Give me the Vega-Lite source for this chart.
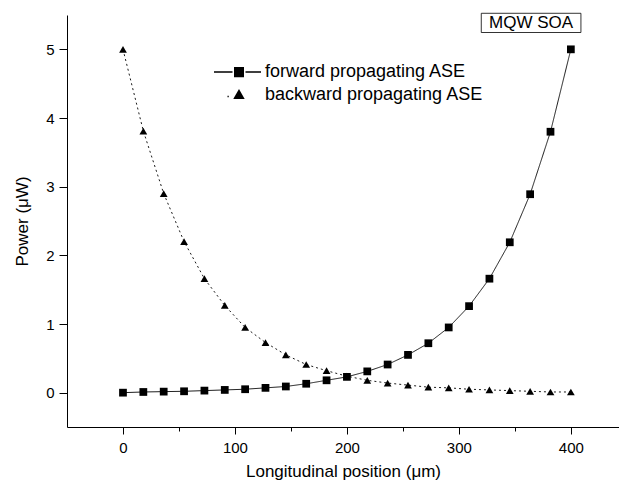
{
  "$schema": "https://vega.github.io/schema/vega-lite/v6.json",
  "width": 552,
  "height": 412,
  "autosize": {"type": "none"},
  "padding": {"left": 67, "top": 15, "right": 0, "bottom": 67},
  "background": "white",
  "config": {
    "view": {"stroke": null},
    "font": "Liberation Sans",
    "axis": {
      "domainColor": "black",
      "domainWidth": 1,
      "tickColor": "black",
      "tickWidth": 1,
      "labelColor": "black",
      "labelFont": "Liberation Sans",
      "labelFontSize": 15,
      "titleColor": "black",
      "titleFont": "Liberation Sans",
      "titleFontSize": 17,
      "titleFontWeight": "normal",
      "grid": false
    }
  },
  "datasets": {
    "ase": [
      {"x": 0, "power": 0.0, "series": "forward propagating ASE"},
      {"x": 18.18, "power": 0.01, "series": "forward propagating ASE"},
      {"x": 36.36, "power": 0.015, "series": "forward propagating ASE"},
      {"x": 54.55, "power": 0.02, "series": "forward propagating ASE"},
      {"x": 72.73, "power": 0.03, "series": "forward propagating ASE"},
      {"x": 90.91, "power": 0.04, "series": "forward propagating ASE"},
      {"x": 109.09, "power": 0.05, "series": "forward propagating ASE"},
      {"x": 127.27, "power": 0.07, "series": "forward propagating ASE"},
      {"x": 145.45, "power": 0.09, "series": "forward propagating ASE"},
      {"x": 163.64, "power": 0.13, "series": "forward propagating ASE"},
      {"x": 181.82, "power": 0.18, "series": "forward propagating ASE"},
      {"x": 200, "power": 0.23, "series": "forward propagating ASE"},
      {"x": 218.18, "power": 0.31, "series": "forward propagating ASE"},
      {"x": 236.36, "power": 0.41, "series": "forward propagating ASE"},
      {"x": 254.55, "power": 0.55, "series": "forward propagating ASE"},
      {"x": 272.73, "power": 0.72, "series": "forward propagating ASE"},
      {"x": 290.91, "power": 0.95, "series": "forward propagating ASE"},
      {"x": 309.09, "power": 1.26, "series": "forward propagating ASE"},
      {"x": 327.27, "power": 1.66, "series": "forward propagating ASE"},
      {"x": 345.45, "power": 2.19, "series": "forward propagating ASE"},
      {"x": 363.64, "power": 2.89, "series": "forward propagating ASE"},
      {"x": 381.82, "power": 3.8, "series": "forward propagating ASE"},
      {"x": 400, "power": 5.0, "series": "forward propagating ASE"},
      {"x": 0, "power": 5.0, "series": "backward propagating ASE"},
      {"x": 18.18, "power": 3.81, "series": "backward propagating ASE"},
      {"x": 36.36, "power": 2.9, "series": "backward propagating ASE"},
      {"x": 54.55, "power": 2.2, "series": "backward propagating ASE"},
      {"x": 72.73, "power": 1.66, "series": "backward propagating ASE"},
      {"x": 90.91, "power": 1.27, "series": "backward propagating ASE"},
      {"x": 109.09, "power": 0.95, "series": "backward propagating ASE"},
      {"x": 127.27, "power": 0.73, "series": "backward propagating ASE"},
      {"x": 145.45, "power": 0.55, "series": "backward propagating ASE"},
      {"x": 163.64, "power": 0.41, "series": "backward propagating ASE"},
      {"x": 181.82, "power": 0.32, "series": "backward propagating ASE"},
      {"x": 200, "power": 0.24, "series": "backward propagating ASE"},
      {"x": 218.18, "power": 0.18, "series": "backward propagating ASE"},
      {"x": 236.36, "power": 0.14, "series": "backward propagating ASE"},
      {"x": 254.55, "power": 0.11, "series": "backward propagating ASE"},
      {"x": 272.73, "power": 0.08, "series": "backward propagating ASE"},
      {"x": 290.91, "power": 0.07, "series": "backward propagating ASE"},
      {"x": 309.09, "power": 0.05, "series": "backward propagating ASE"},
      {"x": 327.27, "power": 0.04, "series": "backward propagating ASE"},
      {"x": 345.45, "power": 0.03, "series": "backward propagating ASE"},
      {"x": 363.64, "power": 0.02, "series": "backward propagating ASE"},
      {"x": 381.82, "power": 0.01, "series": "backward propagating ASE"},
      {"x": 400, "power": 0.01, "series": "backward propagating ASE"}
    ],
    "label": [
      {"x": 320, "x2": 409, "y": 5.245, "y2": 5.525, "xm": 364.5, "ym": 5.385, "text": "MQW SOA"}
    ]
  },
  "layer": [
    {
      "data": {"name": "ase"},
      "mark": {"type": "line", "color": "black", "strokeWidth": 0.9, "clip": false},
      "encoding": {
        "x": {
          "field": "x", "type": "quantitative",
          "scale": {"domain": [-50, 443], "nice": false, "zero": false},
          "axis": {
            "title": "Longitudinal position (μm)",
            "values": [0, 50, 100, 150, 200, 250, 300, 350, 400],
            "labelExpr": "datum.value % 100 === 0 ? format(datum.value, 'd') : ''",
            "tickSize": {"condition": {"test": "datum.value % 100 === 0", "value": 7}, "value": 4},
            "labelPadding": 6,
            "titlePadding": 8
          }
        },
        "y": {
          "field": "power", "type": "quantitative",
          "scale": {"domain": [-0.5, 5.5], "nice": false, "zero": false},
          "axis": {
            "title": "Power (μW)",
            "values": [0, 0.5, 1, 1.5, 2, 2.5, 3, 3.5, 4, 4.5, 5, 5.5],
            "labelExpr": "datum.value % 1 === 0 ? format(datum.value, 'd') : ''",
            "tickSize": {"condition": {"test": "datum.value % 1 === 0", "value": 8}, "value": 4},
            "labelPadding": 5,
            "titlePadding": 14
          }
        },
        "detail": {"field": "series"},
        "strokeDash": {
          "condition": {"test": "datum.series === 'backward propagating ASE'", "value": [2, 3]},
          "value": [1, 0]
        }
      }
    },
    {
      "data": {"name": "ase"},
      "mark": {"type": "point", "filled": true, "color": "black", "opacity": 1, "size": 60, "clip": false},
      "encoding": {
        "x": {"field": "x", "type": "quantitative"},
        "y": {"field": "power", "type": "quantitative"},
        "shape": {
          "condition": {"test": "datum.series === 'forward propagating ASE'", "value": "square"},
          "value": "triangle-up"
        }
      }
    },
    {
      "data": {"name": "ase"},
      "transform": [{"filter": "false"}],
      "mark": {"type": "point", "filled": false, "color": "black", "opacity": 1, "size": 64, "strokeWidth": 1},
      "encoding": {
        "x": {"field": "x", "type": "quantitative"},
        "y": {"field": "power", "type": "quantitative"},
        "shape": {
          "field": "series", "type": "nominal",
          "scale": {
            "domain": ["forward propagating ASE", "backward propagating ASE"],
            "range": [
              "M-5,0H-1.3M1.3,0H4.4M-1,-0.875H1M-1,-0.625H1M-1,-0.375H1M-1,-0.125H1M-1,0.125H1M-1,0.375H1M-1,0.625H1M-1,0.875H1",
              "M-2.3,0.3H-2.05M-0.88,0.64L0,-0.88L0.88,0.64ZM-0.1,-0.7H0.1M-0.22,-0.5H0.22M-0.34,-0.3H0.34M-0.45,-0.1H0.45M-0.57,0.1H0.57M-0.68,0.3H0.68M-0.8,0.5H0.8"
            ]
          },
          "legend": {
            "title": null,
            "orient": "none",
            "legendX": 163,
            "legendY": 48,
            "padding": 0,
            "labelFont": "Liberation Sans",
            "labelFontSize": 18,
            "labelColor": "black",
            "labelOffset": 17,
            "rowPadding": 5,
            "labelLimit": 400,
            "symbolOpacity": 1
          }
        }
      }
    },
    {
      "data": {"name": "label"},
      "mark": {"type": "rect", "fill": "white", "stroke": "black", "strokeWidth": 0.8, "clip": false},
      "encoding": {
        "x": {"field": "x", "type": "quantitative"},
        "x2": {"field": "x2"},
        "y": {"field": "y", "type": "quantitative"},
        "y2": {"field": "y2"}
      }
    },
    {
      "data": {"name": "label"},
      "mark": {"type": "text", "font": "Liberation Sans", "fontSize": 17, "color": "black", "align": "center", "baseline": "middle", "clip": false},
      "encoding": {
        "x": {"field": "xm", "type": "quantitative"},
        "y": {"field": "ym", "type": "quantitative"},
        "text": {"field": "text"}
      }
    }
  ]
}
